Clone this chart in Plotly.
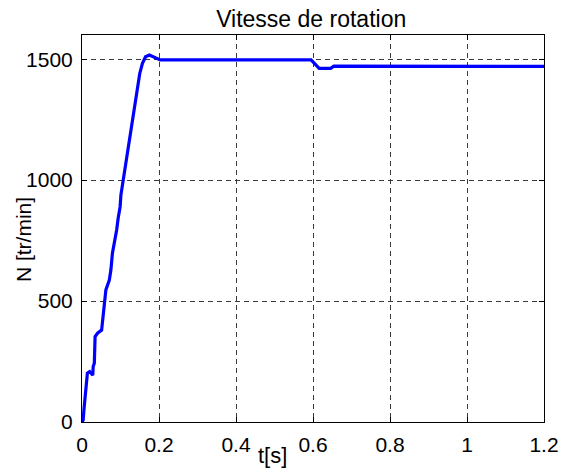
import plotly.graph_objects as go

# Time (s) and rotation speed (tr/min)
t = [0, 0.003, 0.005, 0.009, 0.014, 0.020, 0.026, 0.028, 0.029, 0.032, 0.034,
     0.041, 0.051, 0.054, 0.058, 0.062, 0.071, 0.075, 0.079, 0.085, 0.090,
     0.094, 0.099, 0.101, 0.107, 0.114, 0.121, 0.127, 0.133, 0.138, 0.144,
     0.150, 0.157, 0.165, 0.175, 0.184, 0.195, 0.203, 0.4, 0.595, 0.616,
     0.646, 0.654, 0.8, 1.2]
N = [0, 8, 50, 132, 202, 208, 200, 194, 229, 243, 353,
     368, 380, 435, 491, 546, 587, 628, 698, 745, 794,
     843, 890, 938, 1000, 1083, 1152, 1221, 1276, 1331, 1386,
     1441, 1483, 1510, 1517, 1510, 1500, 1497, 1497, 1497, 1462,
     1462, 1471, 1470, 1470]

x_ticks = [0, 0.2, 0.4, 0.6, 0.8, 1, 1.2]
x_tick_labels = ["0", "0.2", "0.4", "0.6", "0.8", "1", "1.2"]
y_ticks = [0, 500, 1000, 1500]
y_tick_labels = ["0", "500", "1000", "1500"]

title = "Vitesse de rotation"
xlabel = "t[s]"
ylabel = "N [tr/min]"

FONT = "Liberation Sans, Arial, sans-serif"

fig = go.Figure()
fig.add_trace(go.Scatter(x=t, y=N, mode="lines",
                         line=dict(color="#0000ff", width=3.2),
                         hoverinfo="skip", showlegend=False))

axis_common = dict(
    showline=True, linecolor="black", linewidth=1, mirror="ticks",
    ticks="inside", ticklen=5, tickcolor="black", tickwidth=1,
    showgrid=True, gridcolor="#3a3a3a", gridwidth=1, griddash="5px,4px",
    zeroline=False,
    tickfont=dict(family=FONT, size=21, color="black"),
)

fig.update_layout(
    width=571, height=472,
    margin=dict(l=82, r=19, t=35, b=50),
    paper_bgcolor="white", plot_bgcolor="white",
    title=dict(text=title, x=0.545, xanchor="center", y=1 - 19 / 472,
               yanchor="middle",
               font=dict(family=FONT, size=23, color="black")),
    xaxis=dict(range=[0, 1.2], tickvals=x_ticks, ticktext=x_tick_labels,
               ticklabelstandoff=4, **axis_common),
    yaxis=dict(range=[0, 1600], tickvals=y_ticks, ticktext=y_tick_labels,
               ticklabelstandoff=4, **axis_common),
    annotations=[
        dict(text=xlabel, xref="paper", yref="paper", x=0.413, y=0,
             xanchor="center", yanchor="middle", yshift=-33, showarrow=False,
             font=dict(family=FONT, size=22, color="black")),
        dict(text=ylabel, xref="paper", yref="paper", x=0, y=0.47,
             xanchor="center", yanchor="middle", xshift=-59, textangle=-90,
             showarrow=False,
             font=dict(family=FONT, size=21, color="black")),
    ],
)

fig.write_html("out.html")
